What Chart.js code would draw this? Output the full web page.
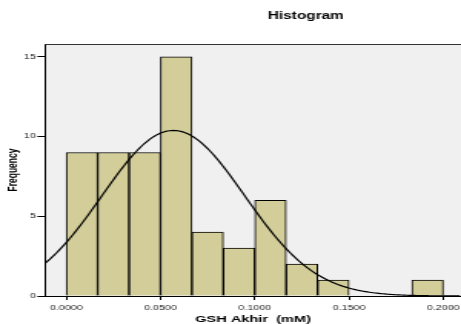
<!DOCTYPE html>
<html>
<head>
<meta charset="utf-8">
<script src="https://cdn.jsdelivr.net/npm/chart.js@4/dist/chart.umd.min.js"></script>
<style>
  html, body { margin: 0; padding: 0; background: #ffffff; overflow: hidden; }
  #wrap { width: 461px; height: 324px; overflow: hidden; }
  #hist { transform: scaleX(1.536667); transform-origin: 0 0; }
</style>
</head>
<body>
<div id="wrap"><canvas id="hist" width="300" height="324"></canvas></div>
<script>
// Histogram of GSH Akhir (mM), bin width 1/60 mM
const binCenters = [0.008333, 0.025, 0.041667, 0.058333, 0.075, 0.091667, 0.108333, 0.125, 0.141667, 0.158333, 0.175, 0.191667];
const frequencies = [9, 9, 9, 15, 4, 3, 6, 2, 1, 0, 0, 1];
const xTickValues = [0, 0.05, 0.1, 0.15, 0.2];
const xTickLabels = ['0.0000', '0.0500', '0.1000', '0.1500', '0.2000'];
const yTickValues = [0, 5, 10, 15];

// Fitted normal curve
const curveMean = 0.0568;
const curveSd = 0.0378;
const binWidth = 1 / 60;
const totalCount = frequencies.reduce((a, b) => a + b, 0);

const xMin = -0.01125, xMax = 0.2094;
const curvePoints = [];
for (let x = xMin; x <= xMax + 1e-9; x += 0.001) {
  const z = (x - curveMean) / curveSd;
  curvePoints.push({ x: x, y: totalCount * binWidth / (curveSd * Math.sqrt(2 * Math.PI)) * Math.exp(-0.5 * z * z) });
}

const FONT = 'Liberation Sans, Arial, sans-serif';

const plotFrame = {
  id: 'plotFrame',
  beforeDraw(chart) {
    const { ctx, chartArea: a } = chart;
    ctx.save();
    ctx.fillStyle = '#f0f0f0';
    ctx.fillRect(a.left, a.top, a.right - a.left, a.bottom - a.top);
    ctx.restore();
  },
  afterDraw(chart) {
    const { ctx, chartArea: a } = chart;
    ctx.save();
    ctx.strokeStyle = '#333333';
    ctx.lineWidth = 1;
    ctx.beginPath();
    ctx.moveTo(a.left, a.top + 0.5);
    ctx.lineTo(a.right, a.top + 0.5);
    ctx.stroke();
    ctx.fillStyle = '#000000';
    ctx.font = 'bold 10px ' + FONT;
    ctx.textAlign = 'center';
    ctx.textBaseline = 'middle';
    ctx.fillText('Histogram', 199, 16);
    ctx.restore();
  }
};

new Chart(document.getElementById('hist'), {
  type: 'bar',
  data: {
    datasets: [
      {
        type: 'bar',
        data: binCenters.map((c, i) => ({ x: c, y: frequencies[i] })),
        backgroundColor: '#d2cd99',
        borderColor: '#000000',
        borderWidth: 1,
        barPercentage: 1,
        categoryPercentage: 1,
        order: 2
      },
      {
        type: 'line',
        data: curvePoints,
        borderColor: '#000000',
        borderWidth: 1.2,
        pointRadius: 0,
        tension: 0,
        fill: false,
        order: 1
      }
    ]
  },
  options: {
    responsive: false,
    animation: false,
    devicePixelRatio: 1,
    layout: { padding: { top: 44, left: 0, right: 0, bottom: 0 } },
    plugins: { legend: { display: false }, tooltip: { enabled: false }, title: { display: false } },
    scales: {
      x: {
        type: 'linear',
        min: xMin,
        max: xMax,
        offset: false,
        afterBuildTicks: s => { s.ticks = xTickValues.map(v => ({ value: v })); },
        afterFit: s => { s.height = 28; s.paddingLeft = 0; s.paddingRight = 0; },
        ticks: {
          autoSkip: false,
          maxRotation: 0,
          padding: 4,
          color: '#222222',
          font: { family: FONT, size: 7 },
          callback: (v, i) => xTickLabels[i]
        },
        grid: { offset: false, drawOnChartArea: false, drawTicks: true, tickLength: 4, color: '#000000' },
        border: { display: true, color: '#000000', width: 1 },
        title: {
          display: true,
          text: 'GSH Akhir  (mM)',
          color: '#000000',
          font: { family: FONT, size: 9.5, weight: 'bold', lineHeight: 1 },
          padding: { top: 0, bottom: 0 }
        }
      },
      y: {
        type: 'linear',
        min: 0,
        max: 15.8,
        afterBuildTicks: s => { s.ticks = yTickValues.map(v => ({ value: v })); },
        afterFit: s => { s.width = 29.3; s.paddingTop = 0; s.paddingBottom = 0; },
        ticks: {
          padding: 1,
          color: '#222222',
          font: { family: FONT, size: 7 }
        },
        grid: { drawOnChartArea: false, drawTicks: true, tickLength: 5, color: '#000000' },
        border: { display: true, color: '#000000', width: 1 },
        title: {
          display: true,
          text: 'Frequency',
          color: '#000000',
          font: { family: FONT, size: 8.5, weight: 'bold' },
          padding: { top: 4, bottom: 0 }
        }
      }
    }
  },
  plugins: [plotFrame]
});
</script>
</body>
</html>
